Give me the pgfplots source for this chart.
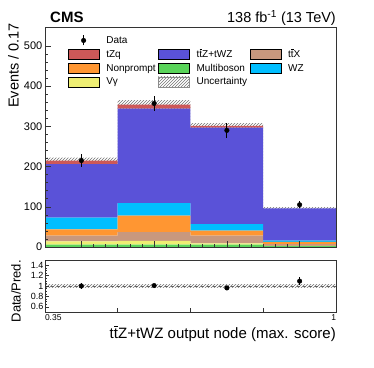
\documentclass[border=0pt]{standalone}
\usepackage{pgfplots}
\pgfplotsset{compat=1.18}
\usepgfplotslibrary{fillbetween}
\usetikzlibrary{patterns}
\usepackage{fontspec}
\setmainfont{Liberation Sans}
\definecolor{cRed}{RGB}{205,88,88}
\definecolor{cBlue}{RGB}{90,82,216}
\definecolor{cTan}{RGB}{200,152,126}
\definecolor{cOrange}{RGB}{255,150,50}
\definecolor{cGreen}{RGB}{90,212,90}
\definecolor{cCyan}{RGB}{0,190,255}
\definecolor{cYellow}{RGB}{238,238,115}
\newcommand{\tbar}{\leavevmode\rlap{\hspace{0.01em}\raisebox{0.76em}{\rule{0.27em}{0.065em}}}t}
\begin{document}
\begin{tikzpicture}
\pgfplotsset{rootax/.style={scale only axis, width=291pt, xmin=0.35, xmax=1,
  tick align=inside, tick pos=left, axis line style={black!80, line width=0.6pt},
  every tick/.style={black!80, line width=0.5pt},
  /pgf/number format/assume math mode=true}}
% ---- stacked predictions
\begin{axis}[rootax, hide axis, at={(45pt,120pt)}, anchor=south west, height=220pt,
  ymin=0, ymax=547, ybar stacked, bar width=0.1625]
% Multiboson
\addplot[fill=cGreen, draw=none] coordinates {(0.43125,6) (0.59375,6) (0.75625,6) (0.91875,2)};
% V gamma
\addplot[fill=cYellow, draw=none] coordinates {(0.43125,8) (0.59375,9) (0.75625,3) (0.91875,1)};
% ttX
\addplot[fill=cTan, draw=none] coordinates {(0.43125,14) (0.59375,22) (0.75625,19) (0.91875,4)};
% Nonprompt
\addplot[fill=cOrange, draw=none] coordinates {(0.43125,16) (0.59375,41) (0.75625,13) (0.91875,6)};
% WZ
\addplot[fill=cCyan, draw=none] coordinates {(0.43125,29) (0.59375,31) (0.75625,16) (0.91875,3)};
% ttZ+tWZ
\addplot[fill=cBlue, draw=none] coordinates {(0.43125,133) (0.59375,235) (0.75625,240) (0.91875,80)};
% tZq
\addplot[fill=cRed, draw=none] coordinates {(0.43125,9) (0.59375,10) (0.75625,4) (0.91875,0)};
\end{axis}
% ---- frame, uncertainty, data, legend
\begin{axis}[rootax, at={(45pt,120pt)}, anchor=south west, height=220pt,
  ymin=0, ymax=547, axis on top,
  xtick={0.43125,0.59375,0.75625,0.91875}, xticklabels={}, minor x tick num=5,
  ytick={0,100,200,300,400,500}, minor y tick num=4,
  major tick length=6pt, minor tick length=3pt,
  yticklabel style={font=\fontsize{11}{12}\selectfont, inner sep=2.5pt},
  legend columns=3, legend cell align=left,
  legend style={at={(0.078,0.967)}, anchor=north west, draw=none, fill=none,
    font=\fontsize{10}{11}\selectfont, inner sep=0pt, row sep=1.2pt,
    nodes={inner ysep=1.8pt},
    /tikz/every odd column/.append style={column sep=5pt},
    /tikz/every even column/.append style={column sep=0.5pt}},
  legend image code/.code={\fill[#1] (0pt,-5pt) rectangle (31pt,5pt);}]
\addplot[name path=up, draw=none, const plot mark left, forget plot] coordinates {(0.35,222) (0.5125,365) (0.675,308) (0.8375,99) (1,99)};
\addplot[name path=lo, draw=none, const plot mark left, forget plot] coordinates {(0.35,208) (0.5125,343) (0.675,294) (0.8375,93) (1,93)};
\addplot[pattern=north east lines, pattern color=black!55, draw=none, forget plot] fill between[of=up and lo];
\addplot[only marks, mark=*, mark size=2.3pt, black, forget plot,
  error bars/.cd, y dir=both, y explicit, error mark=none,
  error bar style={line width=1pt}]
  coordinates {(0.43125,215) +- (0,15) (0.59375,357) +- (0,18) (0.75625,290) +- (0,18) (0.91875,105) +- (0,9)};
\addlegendimage{legend image code/.code={\draw[line width=1pt] (15.5pt,-5pt)--(15.5pt,5pt); \fill (15.5pt,0pt) circle (2.3pt);}}
\addlegendentry{Data}
\addlegendimage{empty legend}\addlegendentry{}
\addlegendimage{empty legend}\addlegendentry{}
\addlegendimage{fill=cRed}\addlegendentry{tZq}
\addlegendimage{fill=cBlue}\addlegendentry{t\tbar Z+tWZ}
\addlegendimage{fill=cTan}\addlegendentry{t\tbar X}
\addlegendimage{fill=cOrange}\addlegendentry{Nonprompt}
\addlegendimage{fill=cGreen}\addlegendentry{Multiboson}
\addlegendimage{fill=cCyan}\addlegendentry{WZ}
\addlegendimage{fill=cYellow}\addlegendentry{Vγ}
\addlegendimage{legend image code/.code={\draw[pattern=north east lines, pattern color=black!55, draw=black!45, line width=0.3pt] (0pt,-5pt) rectangle (31pt,5pt);}}
\addlegendentry{Uncertainty}
\end{axis}
% ---- ratio panel
\begin{axis}[rootax, at={(45pt,55pt)}, anchor=south west, height=52pt,
  ymin=0.5, ymax=1.5, axis on top,
  ytick={0.6,0.8,1,1.2,1.4}, yticklabels={0.6,0.8,1,1.2,1.4}, minor y tick num=3,
  xtick={0.35,0.5125,0.675,0.8375,1},
  xticklabels={\makebox[0pt][l]{0.35},,,,\makebox[0pt][r]{1}},
  major tick length=4pt, minor tick length=2pt,
  yticklabel style={font=\fontsize{9}{10}\selectfont, inner sep=1.5pt},
  xticklabel style={font=\fontsize{8.5}{10}\selectfont, inner sep=2pt}]
\addplot[name path=rup, draw=none] coordinates {(0.35,1.025) (1,1.025)};
\addplot[name path=rlo, draw=none] coordinates {(0.35,0.975) (1,0.975)};
\addplot[pattern=north east lines, pattern color=black!55, draw=none] fill between[of=rup and rlo];
\addplot[black!60, dashed, line width=0.4pt] coordinates {(0.35,1) (1,1)};
\addplot[only marks, mark=*, mark size=2.3pt, black,
  error bars/.cd, y dir=both, y explicit, error mark=none,
  error bar style={line width=1pt}]
  coordinates {(0.43125,1.0) +- (0,0.05) (0.59375,1.008) +- (0,0.04) (0.75625,0.963) +- (0,0.04) (0.91875,1.094) +- (0,0.08)};
\end{axis}
% ---- titles and labels
\node[anchor=base west, inner sep=0pt, font=\fontsize{15}{15}\selectfont\bfseries] at (50pt,344.5pt) {CMS};
\node[anchor=base east, inner sep=0pt, font=\fontsize{14.5}{15}\selectfont] at (336pt,344.5pt) {138 fb\textsuperscript{-1} (13 TeV)};
\node[anchor=base east, inner sep=0pt, rotate=90, font=\fontsize{14.5}{15}\selectfont] at (18.5pt,344pt) {Events / 0.17};
\node[anchor=base east, inner sep=0pt, rotate=90, font=\fontsize{13}{14}\selectfont] at (20.5pt,107pt) {Data/Pred.};
\node[anchor=base east, inner sep=0pt, font=\fontsize{15}{16}\selectfont] at (336pt,29pt) {t\tbar Z+tWZ output node (max. score)};
\pgfresetboundingbox
\path[use as bounding box] (0pt,0pt) rectangle (374pt,367pt);
\end{tikzpicture}
\end{document}
